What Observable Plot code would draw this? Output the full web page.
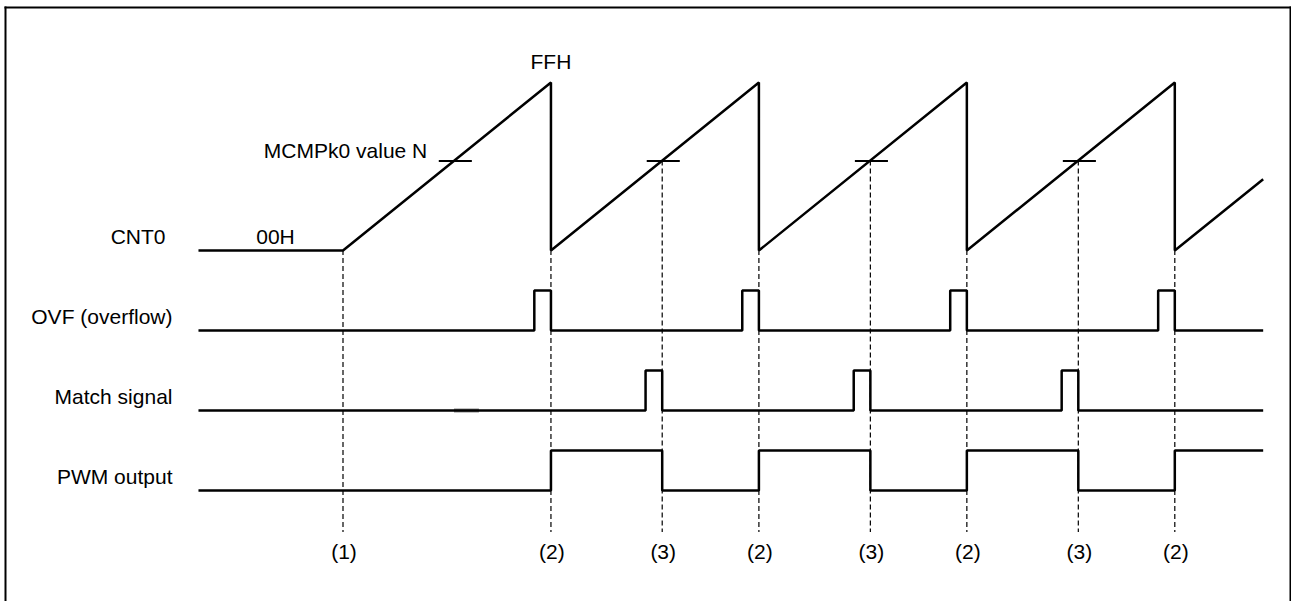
<!DOCTYPE html>
<html>
<head>
<meta charset="utf-8">
<script src="https://cdn.jsdelivr.net/npm/d3@7"></script>
<script src="https://cdn.jsdelivr.net/npm/@observablehq/plot@0.6"></script>
<style>
  html, body { margin: 0; padding: 0; background: #fff; overflow: hidden; }
  svg { display: block; }
</style>
</head>
<body>
<div id="chart"></div>
<script>
// ---- data (time in counter periods, (1) = 0) ----
const tStart = -0.695;           // left end of every waveform
const tEnd = 4.425;              // right end of every waveform
const overflowTimes = [1, 2, 3, 4];               // (2)
const matchTimes = [1.535, 2.536, 3.536];         // (3)
const startTime = [0];                            // (1)
const pulseWidth = 0.08;                          // width of OVF / match pulses
const compareN = 136;                             // MCMPk0 value N (counts, FFH = 255)
const compareCrossings = [0.535, 1.535, 2.536, 3.536];
const counterT = [tStart, 0, 1, 1, 2, 2, 3, 3, 4, 4, tEnd];
const counterV = [0, 0, 255, 0, 255, 0, 255, 0, 255, 0, 108];
const signalNames = ["OVF (overflow)", "Match signal", "PWM output"];
const counterName = "CNT0";
const markerLabels = ["(1)", "(2)", "(3)", "(2)", "(3)", "(2)", "(3)", "(2)"];
const ghostSegment = [0.536, 0.656];              // faint grey mark on the match line

// ---- layout of lanes (y units: 1 = pulse height) ----
const lane = {cnt: 6, ovf: 4, match: 2, pwm: 0};
const cntAmp = 4.2;
const cy = v => lane.cnt + v / 255 * cntAmp;

// build tables
const counter = counterT.map((t, i) => ({t, y: cy(counterV[i])}));

function stepSignal(base, edges) {
  const pts = [{t: tStart, y: base}];
  edges.sort((a, b) => a[0] - b[0]).forEach(([t, lv]) => pts.push({t, y: base + lv}));
  pts.push({t: tEnd, y: pts[pts.length - 1].y});
  return pts;
}
const ovf = stepSignal(lane.ovf, overflowTimes.flatMap(t => [[t - pulseWidth, 1], [t, 0]]));
const match = stepSignal(lane.match, matchTimes.flatMap(t => [[t - pulseWidth, 1], [t, 0]]));
const pwm = stepSignal(lane.pwm, [...overflowTimes.map(t => [t, 1]), ...matchTimes.map(t => [t, 0])]);

const markers = [
  ...startTime.map(t => ({t, top: cy(0)})),
  ...overflowTimes.map(t => ({t, top: cy(0)})),
  ...matchTimes.map(t => ({t, top: cy(compareN)}))
].sort((a, b) => a.t - b.t).map((d, i) => ({...d, label: markerLabels[i]}));

const labels = [
  {name: signalNames[0], y: lane.ovf},
  {name: signalNames[1], y: lane.match},
  {name: signalNames[2], y: lane.pwm}
];

const font = "'Liberation Sans', Arial, Helvetica, sans-serif";
const black = "#000";

const chart = Plot.plot({
  width: 1291,
  height: 601,
  marginLeft: 5,
  marginRight: 1,
  marginTop: 7,
  marginBottom: 0,
  style: {fontFamily: font, fontSize: "21px", color: black, background: "#fff"},
  x: {domain: [0, 4], range: [342.5, 1174.3], axis: null},
  y: {domain: [0, 6], range: [490, 250], axis: null},
  marks: [
    Plot.frame({anchor: "left", stroke: black, strokeWidth: 2}),
    Plot.frame({anchor: "top", stroke: black, strokeWidth: 2}),
    Plot.frame({anchor: "right", stroke: black, strokeWidth: 2}),
    // faint grey mark
    Plot.ruleY([lane.match], {x1: ghostSegment[0], x2: ghostSegment[1], y: d => d, stroke: "#888", strokeWidth: 4}),
    // dashed guide lines
    Plot.ruleX(markers, {x: "t", y1: "top", y2: -1.05, stroke: black, strokeWidth: 1.2, strokeDasharray: "5,3"}),
    // compare value ticks
    Plot.ruleY(compareCrossings, {x1: d => d - 0.072, x2: d => d + 0.087, y: () => cy(compareN), stroke: black, strokeWidth: 2}),
    // counter sawtooth
    Plot.line(counter, {x: "t", y: "y", stroke: black, strokeWidth: 2.5, strokeLinejoin: "bevel", strokeLinecap: "butt"}),
    // digital signals
    Plot.line(ovf, {x: "t", y: "y", curve: "step-after", stroke: black, strokeWidth: 2.5, strokeLinejoin: "miter", strokeLinecap: "butt"}),
    Plot.line(match, {x: "t", y: "y", curve: "step-after", stroke: black, strokeWidth: 2.5, strokeLinejoin: "miter", strokeLinecap: "butt"}),
    Plot.line(pwm, {x: "t", y: "y", curve: "step-after", stroke: black, strokeWidth: 2.5, strokeLinejoin: "miter", strokeLinecap: "butt"}),
    // signal labels
    Plot.text(labels, {x: () => tStart, y: "y", text: "name", textAnchor: "end", dx: -26, dy: -13, fill: black}),
    Plot.text([counterName], {x: () => tStart, y: () => lane.cnt, text: d => d, textAnchor: "end", dx: -33, dy: -13, fill: black}),
    Plot.text(["00H"], {x: () => tStart, y: () => lane.cnt, text: d => d, dx: 77, dy: -13, fill: black}),
    Plot.text(["FFH"], {x: () => overflowTimes[0], y: () => cy(255), text: d => d, dy: -20, fill: black}),
    Plot.text(["MCMPk0 value N"], {x: () => compareCrossings[0], y: () => cy(compareN), text: d => d, textAnchor: "end", dx: -27, dy: -10, fill: black}),
    // marker labels
    Plot.text(markers, {x: "t", y: () => -1.55, text: "label", dx: 1, fill: black})
  ]
});
document.getElementById("chart").appendChild(chart);
</script>
</body>
</html>
